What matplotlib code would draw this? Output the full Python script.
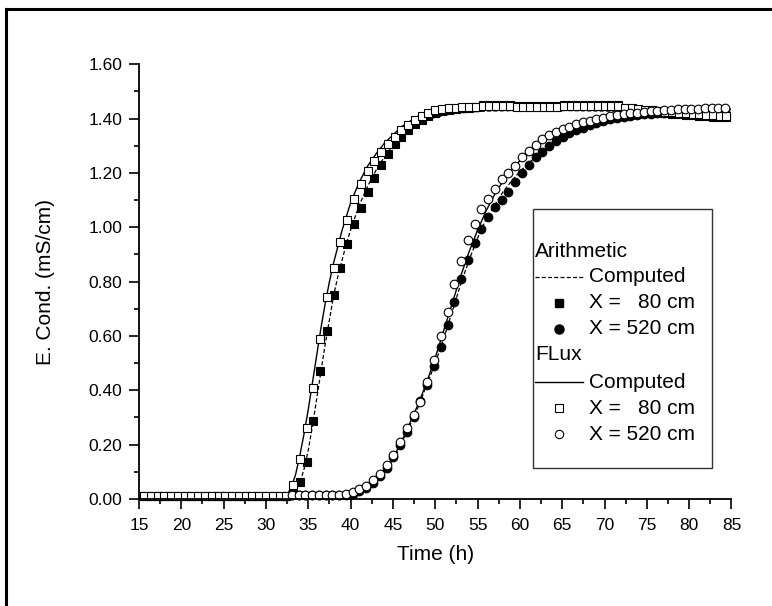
import matplotlib
matplotlib.use("Agg")
import matplotlib.pyplot as plt
from matplotlib.lines import Line2D
from matplotlib.patches import Rectangle
from matplotlib.ticker import MultipleLocator, FormatStrFormatter

plt.rcParams['font.family'] = ['Liberation Sans', 'DejaVu Sans']

# ---- measured breakthrough data, X = 80 cm ----
t_80 = [15.6, 16.4, 17.2, 18.0, 18.8, 19.6, 20.4, 21.2, 22.0, 22.8, 23.6, 24.4,
        25.2, 26.0, 26.8, 27.6, 28.4, 29.2, 30.0, 30.8, 31.6, 32.4, 33.2, 34.0,
        34.8, 35.6, 36.4, 37.2, 38.0, 38.8, 39.6, 40.4, 41.2, 42.0, 42.8, 43.6,
        44.4, 45.2, 46.0, 46.8, 47.6, 48.4, 49.2, 50.0, 50.8, 51.6, 52.4, 53.2,
        54.0, 54.8, 55.6, 56.4, 57.2, 58.0, 58.8, 59.6, 60.4, 61.2, 62.0, 62.8,
        63.6, 64.4, 65.2, 66.0, 66.8, 67.6, 68.4, 69.2, 70.0, 70.8, 71.6, 72.4,
        73.2, 74.0, 74.8, 75.6, 76.4, 77.2, 78.0, 78.8, 79.6, 80.4, 81.2, 82.0,
        82.8, 83.6, 84.4]

ec_80_arith = [0.010, 0.010, 0.010, 0.010, 0.010, 0.010, 0.010, 0.010, 0.010, 0.010, 0.010, 0.010,
               0.010, 0.010, 0.010, 0.010, 0.010, 0.010, 0.010, 0.010, 0.010, 0.010, 0.020, 0.064,
               0.135, 0.287, 0.470, 0.620, 0.750, 0.852, 0.939, 1.011, 1.070, 1.129, 1.181, 1.230,
               1.269, 1.307, 1.334, 1.360, 1.380, 1.395, 1.410, 1.420, 1.428, 1.433, 1.436, 1.438,
               1.440, 1.443, 1.452, 1.452, 1.452, 1.452, 1.452, 1.445, 1.445, 1.445, 1.445, 1.445,
               1.445, 1.445, 1.452, 1.452, 1.452, 1.452, 1.452, 1.452, 1.452, 1.452, 1.452, 1.432,
               1.430, 1.428, 1.426, 1.424, 1.422, 1.420, 1.418, 1.416, 1.414, 1.412, 1.410, 1.408,
               1.406, 1.405, 1.405]

ec_80_flux = [0.012, 0.012, 0.012, 0.012, 0.012, 0.012, 0.012, 0.012, 0.012, 0.012, 0.012, 0.012,
              0.012, 0.012, 0.012, 0.012, 0.012, 0.012, 0.012, 0.012, 0.012, 0.012, 0.052, 0.146,
              0.262, 0.410, 0.590, 0.745, 0.852, 0.945, 1.027, 1.103, 1.159, 1.208, 1.244, 1.279,
              1.307, 1.334, 1.359, 1.377, 1.395, 1.410, 1.420, 1.430, 1.435, 1.438, 1.440, 1.441,
              1.441, 1.443, 1.446, 1.446, 1.446, 1.446, 1.446, 1.441, 1.441, 1.441, 1.441, 1.441,
              1.441, 1.441, 1.446, 1.446, 1.446, 1.446, 1.446, 1.446, 1.446, 1.446, 1.446, 1.440,
              1.438, 1.435, 1.432, 1.430, 1.428, 1.426, 1.424, 1.422, 1.420, 1.418, 1.416, 1.414,
              1.412, 1.410, 1.410]

# ---- measured breakthrough data, X = 520 cm ----
t_520 = [33.05, 33.85, 34.65, 35.45, 36.25, 37.05, 37.85, 38.65, 39.45, 40.25, 41.05, 41.85,
         42.65, 43.45, 44.25, 45.05, 45.85, 46.65, 47.45, 48.25, 49.05, 49.85, 50.65, 51.45,
         52.25, 53.05, 53.85, 54.65, 55.45, 56.25, 57.05, 57.85, 58.65, 59.45, 60.25, 61.05,
         61.85, 62.65, 63.45, 64.25, 65.05, 65.85, 66.65, 67.45, 68.25, 69.05, 69.85, 70.65,
         71.45, 72.25, 73.05, 73.85, 74.65, 75.45, 76.25, 77.05, 77.85, 78.65, 79.45, 80.25,
         81.05, 81.85, 82.65, 83.45, 84.25]

ec_520_arith = [0.014, 0.014, 0.014, 0.014, 0.014, 0.014, 0.014, 0.015, 0.016, 0.020, 0.030, 0.042,
                0.060, 0.085, 0.115, 0.153, 0.197, 0.248, 0.300, 0.360, 0.420, 0.490, 0.560, 0.640,
                0.725, 0.810, 0.880, 0.944, 0.993, 1.037, 1.074, 1.100, 1.131, 1.168, 1.199, 1.230,
                1.258, 1.279, 1.300, 1.318, 1.333, 1.346, 1.357, 1.367, 1.376, 1.384, 1.391, 1.397,
                1.402, 1.406, 1.410, 1.413, 1.416, 1.418, 1.420, 1.422, 1.424, 1.425, 1.426, 1.427,
                1.428, 1.429, 1.430, 1.430, 1.430]

ec_520_flux = [0.014, 0.014, 0.014, 0.014, 0.014, 0.014, 0.015, 0.016, 0.019, 0.025, 0.036, 0.048,
               0.070, 0.092, 0.125, 0.162, 0.211, 0.260, 0.309, 0.358, 0.430, 0.510, 0.600, 0.690,
               0.790, 0.875, 0.954, 1.012, 1.066, 1.103, 1.141, 1.177, 1.200, 1.226, 1.258, 1.281,
               1.303, 1.324, 1.338, 1.352, 1.362, 1.371, 1.380, 1.386, 1.392, 1.398, 1.404, 1.408,
               1.412, 1.416, 1.419, 1.422, 1.425, 1.427, 1.429, 1.431, 1.433, 1.434, 1.435, 1.436,
               1.437, 1.438, 1.438, 1.438, 1.438]

# ---- computed curves ----
tc_80_arith = [15, 31, 32.5, 33, 33.5, 34, 34.5, 35, 35.5, 36, 36.5, 37, 37.5, 38, 38.5, 39,
               39.5, 40, 41, 42, 43, 44, 45, 46, 47, 48, 49, 50, 52, 54, 56, 60, 65, 70, 75,
               80, 85]
ec_c80_arith = [0.005, 0.005, 0.008, 0.015, 0.03, 0.06, 0.11, 0.18, 0.27, 0.37, 0.47, 0.57,
                0.66, 0.75, 0.82, 0.88, 0.94, 0.99, 1.08, 1.15, 1.21, 1.26, 1.30, 1.33, 1.36,
                1.38, 1.395, 1.405, 1.418, 1.424, 1.428, 1.43, 1.43, 1.428, 1.425, 1.42, 1.415]

tc_80_flux = [15, 30, 32, 32.5, 33, 33.5, 34, 34.5, 35, 35.5, 36, 36.5, 37, 37.5, 38, 38.5,
              39, 39.5, 40, 41, 42, 43, 44, 45, 46, 47, 48, 49, 50, 52, 54, 56, 60, 65, 70,
              75, 80, 85]
ec_c80_flux = [0.005, 0.005, 0.008, 0.015, 0.045, 0.09, 0.16, 0.24, 0.33, 0.43, 0.53, 0.63,
               0.72, 0.80, 0.87, 0.93, 0.99, 1.04, 1.09, 1.165, 1.225, 1.27, 1.31, 1.34, 1.37,
               1.39, 1.41, 1.42, 1.43, 1.44, 1.445, 1.447, 1.447, 1.445, 1.44, 1.433, 1.425, 1.42]

tc_520_arith = [15, 38, 40, 41, 42, 43, 44, 45, 46, 47, 48, 49, 50, 51, 52, 53, 54, 55, 56,
                57, 58, 59, 60, 61, 62, 63, 64, 65, 66, 68, 70, 72, 75, 78, 81, 85]
ec_c520_arith = [0.005, 0.006, 0.012, 0.02, 0.035, 0.06, 0.095, 0.14, 0.20, 0.27, 0.34, 0.42,
                 0.50, 0.59, 0.69, 0.79, 0.88, 0.96, 1.03, 1.08, 1.13, 1.17, 1.205, 1.235,
                 1.262, 1.285, 1.305, 1.322, 1.338, 1.362, 1.38, 1.393, 1.405, 1.413, 1.418, 1.42]

tc_520_flux = [15, 35, 38, 40, 41, 42, 43, 44, 45, 46, 47, 48, 49, 50, 51, 52, 53, 54, 55, 56,
               57, 58, 59, 60, 61, 62, 63, 64, 65, 66, 68, 70, 72, 75, 78, 81, 85]
ec_c520_flux = [0.005, 0.006, 0.008, 0.015, 0.025, 0.04, 0.07, 0.105, 0.15, 0.21, 0.28, 0.35,
                0.43, 0.52, 0.62, 0.72, 0.82, 0.91, 0.99, 1.06, 1.12, 1.17, 1.21, 1.245, 1.275,
                1.30, 1.32, 1.34, 1.355, 1.368, 1.388, 1.402, 1.412, 1.422, 1.428, 1.432, 1.435]

W, H = 772, 606
fig = plt.figure(figsize=(W / 100, H / 100), dpi=100)
ax = fig.add_axes([139 / W, 1 - 499 / H, (731.5 - 139) / W, (499 - 64.3) / H])

dash = (0, (3.2, 1.8))
mk = dict(ls='none', clip_on=False)
ax.plot(tc_80_arith, ec_c80_arith, color='black', lw=0.9, ls=dash, zorder=2)
ax.plot(tc_520_arith, ec_c520_arith, color='black', lw=0.9, ls=dash, zorder=2)
ax.plot(t_80, ec_80_arith, marker='s', ms=5.6, mfc='black', mec='black', mew=0.8, zorder=3, **mk)
ax.plot(t_520, ec_520_arith, marker='o', ms=6.2, mfc='black', mec='black', mew=0.8, zorder=3, **mk)
ax.plot(tc_80_flux, ec_c80_flux, color='black', lw=1.0, ls='-', zorder=4)
ax.plot(tc_520_flux, ec_c520_flux, color='black', lw=1.0, ls='-', zorder=4)
ax.plot(t_80, ec_80_flux, marker='s', ms=5.6, mfc='white', mec='black', mew=0.8, zorder=5, **mk)
ax.plot(t_520, ec_520_flux, marker='o', ms=6.2, mfc='white', mec='black', mew=0.8, zorder=5, **mk)

ax.set_xlim(15, 85)
ax.set_ylim(0, 1.6)
ax.xaxis.set_major_locator(MultipleLocator(5))
ax.xaxis.set_minor_locator(MultipleLocator(2.5))
ax.yaxis.set_major_locator(MultipleLocator(0.2))
ax.yaxis.set_minor_locator(MultipleLocator(0.1))
ax.yaxis.set_major_formatter(FormatStrFormatter('%.2f'))
for s in ('top', 'right'):
    ax.spines[s].set_visible(False)
for s in ('left', 'bottom'):
    ax.spines[s].set_linewidth(1.3)
    ax.spines[s].set_zorder(6)
ax.tick_params(which='major', direction='out', length=7, width=1.2, labelsize=12.5, pad=5)
ax.tick_params(axis='x', which='major', pad=6.5)
ax.tick_params(which='minor', direction='out', length=3.5, width=1.2)
ax.set_xlabel('Time (h)', fontsize=15, labelpad=9)
ax.set_ylabel('E. Cond. (mS/cm)', fontsize=15, labelpad=24)

# legend panel, laid out in figure pixels
def fx(px):
    return px / W

def fy(py):
    return 1 - py / H

fig.add_artist(Rectangle((fx(532.7), fy(468.3)), fx(711.7) - fx(532.7), fy(209.3) - fy(468.3),
                         transform=fig.transFigure, fill=False, ec='#333333', lw=1.0))
fs_leg = 15
rows = [252, 277, 303, 329, 355, 382, 408, 434]
fig.text(fx(535), fy(rows[0]), 'Arithmetic', fontsize=fs_leg, va='center', ha='left')
fig.add_artist(Line2D([fx(535), fx(583)], [fy(rows[1])] * 2, transform=fig.transFigure,
                      color='black', lw=0.9, ls=dash))
fig.text(fx(589), fy(rows[1]), 'Computed', fontsize=fs_leg, va='center', ha='left')
fig.add_artist(Line2D([fx(559)], [fy(rows[2])], transform=fig.transFigure, ls='none',
                      marker='s', ms=6, mfc='black', mec='black'))
fig.text(fx(589), fy(rows[2]), 'X =   80 cm', fontsize=fs_leg, va='center', ha='left')
fig.add_artist(Line2D([fx(559)], [fy(rows[3])], transform=fig.transFigure, ls='none',
                      marker='o', ms=6.5, mfc='black', mec='black'))
fig.text(fx(589), fy(rows[3]), 'X = 520 cm', fontsize=fs_leg, va='center', ha='left')
fig.text(fx(535), fy(rows[4]), 'FLux', fontsize=fs_leg, va='center', ha='left')
fig.add_artist(Line2D([fx(535), fx(583)], [fy(rows[5])] * 2, transform=fig.transFigure,
                      color='black', lw=1.0, ls='-'))
fig.text(fx(589), fy(rows[5]), 'Computed', fontsize=fs_leg, va='center', ha='left')
fig.add_artist(Line2D([fx(559)], [fy(rows[6])], transform=fig.transFigure, ls='none',
                      marker='s', ms=5.5, mfc='white', mec='black', mew=0.8))
fig.text(fx(589), fy(rows[6]), 'X =   80 cm', fontsize=fs_leg, va='center', ha='left')
fig.add_artist(Line2D([fx(559)], [fy(rows[7])], transform=fig.transFigure, ls='none',
                      marker='o', ms=6, mfc='white', mec='black', mew=0.8))
fig.text(fx(589), fy(rows[7]), 'X = 520 cm', fontsize=fs_leg, va='center', ha='left')

# outer page frame (open to the right and bottom)
fig.add_artist(Line2D([fx(6.3), fx(6.3)], [fy(620), fy(8.7)], transform=fig.transFigure,
                      color='black', lw=2.2, solid_capstyle='projecting'))
fig.add_artist(Line2D([fx(6.3), fx(790)], [fy(8.7), fy(8.7)], transform=fig.transFigure,
                      color='black', lw=2.2, solid_capstyle='projecting'))

fig.savefig('out.png', dpi=100)
